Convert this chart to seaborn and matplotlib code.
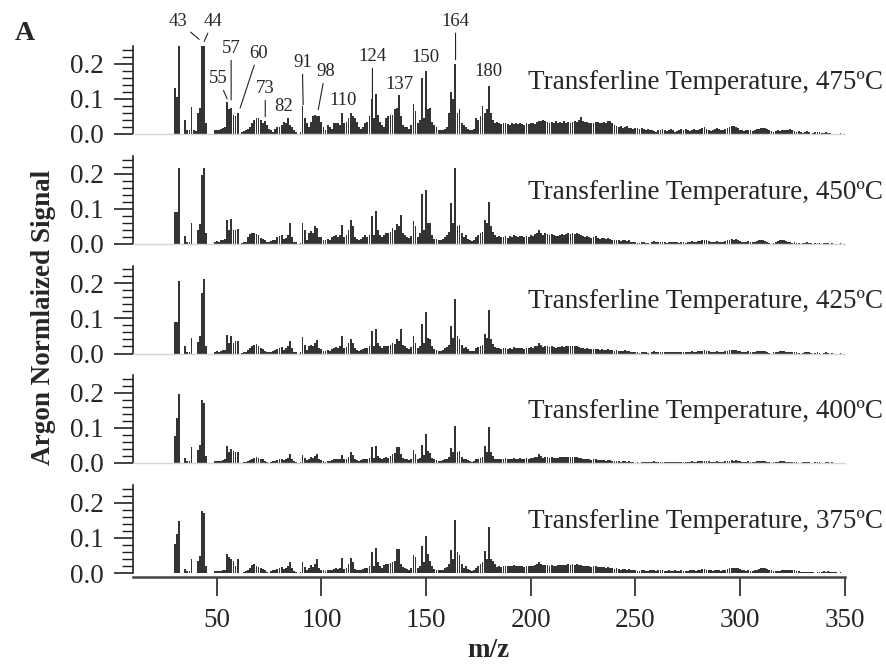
import numpy as np
import pandas as pd
import matplotlib
matplotlib.use("Agg")
import matplotlib.pyplot as plt
import seaborn as sns
from matplotlib.ticker import MultipleLocator, FormatStrFormatter

# m/z axis, one bar per integer mass from 30 to 349
mz = np.arange(30, 350)

temps = [475, 450, 425, 400, 375]

# argon normalized signal, in units of 1e-3
sig_475 = [
    130, 105, 250, 0, 0, 40, 10, 10, 78, 10,
    8, 60, 75, 250, 250, 30, 0, 0, 0, 10,
    12, 10, 15, 18, 20, 90, 70, 75, 55, 50,
    60, 0, 5, 8, 10, 15, 20, 30, 40, 45,
    45, 40, 30, 38, 25, 15, 10, 5, 15, 20,
    20, 25, 35, 30, 45, 25, 20, 10, 5, 0,
    5, 80, 45, 30, 20, 35, 50, 55, 52, 50,
    35, 20, 10, 25, 20, 15, 30, 30, 30, 25,
    60, 30, 35, 45, 60, 50, 45, 35, 20, 15,
    20, 30, 35, 50, 100, 45, 115, 55, 35, 25,
    20, 45, 50, 55, 55, 70, 75, 110, 50, 25,
    20, 20, 15, 25, 85, 65, 30, 40, 160, 45,
    180, 70, 75, 35, 25, 20, 10, 10, 12, 15,
    20, 60, 120, 100, 200, 60, 70, 30, 25, 20,
    15, 10, 10, 15, 45, 40, 50, 80, 60, 70,
    135, 60, 40, 30, 35, 30, 28, 32, 30, 27,
    25, 30, 28, 30, 27, 30, 28, 26, 30, 28,
    30, 32, 28, 35, 38, 36, 40, 38, 33, 30,
    35, 30, 38, 32, 34, 30, 36, 32, 34, 30,
    35, 38, 34, 40, 48, 36, 34, 33, 30, 32,
    30, 33, 35, 32, 30, 34, 32, 36, 38, 30,
    25, 22, 20, 22, 18, 20, 22, 18, 16, 15,
    18, 16, 14, 18, 15, 12, 14, 10, 12, 8,
    6, 10, 12, 14, 10, 8, 12, 15, 10, 6,
    8, 10, 14, 12, 15, 10, 8, 12, 15, 12,
    10, 14, 18, 20, 15, 10, 8, 10, 14, 16,
    15, 12, 10, 14, 18, 20, 22, 23, 20, 16,
    12, 10, 8, 10, 12, 10, 8, 10, 14, 15,
    16, 18, 18, 15, 12, 8, 6, 8, 10, 8,
    10, 12, 10, 12, 13, 10, 8, 6, 8, 5,
    4, 6, 8, 6, 0, 4, 5, 6, 5, 4,
    3, 5, 4, 3, 0, 0, 0, 0, 3, 0,
]

sig_450 = [
    90, 90, 215, 0, 0, 23, 5, 5, 60, 0,
    0, 40, 57, 197, 215, 32, 0, 0, 0, 5,
    8, 5, 10, 12, 13, 68, 40, 70, 40, 40,
    42, 0, 3, 5, 5, 20, 28, 30, 30, 28,
    25, 18, 15, 12, 5, 5, 8, 10, 12, 20,
    22, 25, 15, 18, 25, 60, 20, 5, 5, 0,
    3, 61, 40, 10, 30, 38, 30, 50, 45, 20,
    20, 10, 12, 15, 10, 20, 22, 25, 20, 25,
    55, 20, 25, 40, 69, 50, 20, 15, 10, 15,
    20, 25, 20, 25, 80, 25, 95, 40, 25, 20,
    25, 30, 30, 35, 45, 40, 57, 50, 82, 30,
    25, 20, 18, 22, 66, 50, 20, 30, 143, 40,
    154, 60, 60, 25, 15, 15, 10, 10, 15, 20,
    25, 35, 116, 60, 215, 50, 55, 30, 20, 25,
    15, 10, 8, 10, 20, 25, 30, 35, 68, 60,
    120, 50, 35, 25, 20, 22, 20, 20, 22, 18,
    22, 20, 25, 22, 20, 24, 22, 20, 22, 20,
    25, 22, 28, 30, 40, 32, 25, 30, 28, 25,
    28, 25, 22, 24, 25, 28, 26, 28, 30, 28,
    30, 28, 30, 27, 25, 22, 20, 22, 20, 18,
    20, 22, 18, 15, 18, 16, 14, 16, 15, 12,
    10, 12, 10, 8, 10, 12, 8, 10, 6, 5,
    6, 4, 3, 5, 6, 4, 3, 0, 5, 8,
    6, 5, 7, 6, 5, 4, 6, 5, 5, 6,
    5, 4, 6, 5, 4, 5, 6, 8, 6, 5,
    8, 9, 10, 12, 10, 8, 6, 5, 7, 8,
    6, 5, 6, 8, 10, 12, 13, 12, 13, 10,
    8, 6, 5, 6, 8, 6, 5, 6, 8, 10,
    11, 10, 8, 5, 3, 0, 4, 6, 8, 12,
    10, 12, 8, 6, 5, 4, 5, 4, 3, 0,
    3, 4, 5, 4, 3, 0, 3, 4, 3, 0,
    3, 4, 3, 0, 3, 0, 0, 0, 2, 0,
]

sig_425 = [
    90, 90, 206, 0, 0, 20, 5, 5, 44, 0,
    0, 34, 49, 172, 213, 20, 0, 0, 0, 5,
    6, 5, 8, 10, 10, 53, 30, 51, 30, 35,
    35, 0, 2, 3, 5, 10, 15, 20, 25, 27,
    20, 15, 12, 8, 5, 3, 5, 8, 10, 12,
    15, 18, 10, 15, 20, 35, 15, 5, 3, 0,
    3, 47, 25, 10, 20, 25, 20, 30, 39, 15,
    12, 8, 8, 10, 8, 12, 15, 18, 15, 20,
    49, 15, 18, 30, 42, 30, 15, 10, 8, 10,
    12, 15, 15, 20, 63, 20, 70, 30, 20, 15,
    20, 22, 22, 25, 30, 28, 42, 35, 69, 25,
    20, 15, 12, 18, 49, 30, 15, 20, 85, 30,
    117, 45, 40, 20, 12, 10, 8, 8, 10, 15,
    18, 25, 77, 45, 156, 50, 40, 25, 15, 18,
    12, 8, 6, 8, 15, 18, 22, 25, 56, 45,
    123, 40, 28, 18, 15, 16, 14, 15, 16, 14,
    15, 14, 18, 16, 15, 17, 15, 14, 16, 15,
    18, 16, 20, 22, 30, 24, 18, 22, 20, 18,
    20, 18, 16, 18, 18, 20, 19, 20, 22, 20,
    21, 20, 22, 18, 17, 15, 14, 15, 14, 12,
    13, 14, 12, 11, 12, 11, 10, 12, 11, 9,
    8, 9, 8, 6, 8, 9, 7, 8, 5, 4,
    5, 3, 2, 4, 5, 3, 2, 0, 4, 6,
    5, 4, 5, 5, 4, 3, 5, 4, 4, 5,
    4, 3, 5, 4, 3, 4, 5, 6, 5, 4,
    6, 7, 8, 9, 8, 6, 5, 4, 5, 6,
    5, 4, 5, 6, 8, 9, 10, 9, 10, 8,
    6, 5, 4, 5, 6, 5, 4, 5, 6, 7,
    8, 7, 6, 4, 2, 0, 3, 4, 5, 6,
    6, 7, 5, 4, 4, 3, 4, 3, 2, 0,
    2, 3, 4, 3, 2, 0, 2, 3, 2, 0,
    2, 3, 2, 0, 2, 0, 0, 0, 2, 0,
]

sig_400 = [
    78, 128, 197, 0, 0, 15, 5, 5, 44, 0,
    0, 37, 51, 180, 170, 20, 0, 0, 0, 5,
    5, 5, 6, 8, 10, 49, 30, 40, 35, 30,
    32, 0, 0, 2, 3, 5, 8, 12, 15, 16,
    14, 12, 10, 6, 3, 0, 3, 5, 6, 8,
    10, 12, 8, 10, 13, 26, 12, 5, 2, 0,
    2, 23, 15, 8, 12, 18, 15, 20, 25, 10,
    8, 5, 2, 5, 6, 8, 10, 12, 10, 12,
    22, 10, 12, 18, 30, 22, 10, 8, 6, 8,
    10, 12, 12, 15, 44, 15, 49, 20, 15, 12,
    15, 18, 15, 20, 25, 28, 45, 45, 25, 15,
    12, 10, 8, 12, 37, 25, 12, 15, 51, 22,
    82, 35, 28, 15, 10, 8, 6, 6, 8, 10,
    12, 18, 42, 30, 106, 30, 35, 18, 10, 12,
    8, 5, 4, 6, 10, 12, 15, 18, 49, 30,
    102, 30, 20, 12, 10, 12, 10, 12, 13, 11,
    12, 11, 14, 12, 11, 13, 12, 11, 13, 12,
    14, 13, 16, 18, 25, 20, 15, 18, 16, 15,
    16, 15, 14, 15, 16, 17, 16, 17, 18, 17,
    18, 17, 18, 15, 14, 12, 11, 12, 10, 9,
    10, 11, 9, 8, 9, 8, 7, 9, 8, 6,
    5, 6, 5, 4, 5, 6, 4, 5, 3, 2,
    0, 2, 0, 3, 4, 3, 2, 3, 4, 5,
    4, 3, 4, 4, 3, 2, 4, 3, 3, 4,
    3, 2, 4, 3, 2, 3, 4, 5, 4, 3,
    5, 6, 6, 7, 6, 5, 4, 3, 4, 5,
    4, 3, 4, 5, 6, 7, 8, 7, 8, 6,
    5, 4, 3, 4, 5, 4, 3, 4, 5, 6,
    6, 5, 5, 3, 2, 0, 2, 3, 4, 5,
    5, 5, 4, 3, 3, 2, 3, 2, 0, 0,
    2, 2, 3, 2, 0, 0, 2, 2, 2, 0,
    0, 2, 2, 0, 2, 0, 0, 0, 1, 0,
]

sig_375 = [
    82, 111, 149, 0, 0, 12, 5, 5, 41, 0,
    0, 34, 47, 175, 170, 21, 0, 0, 0, 5,
    5, 5, 6, 8, 10, 53, 45, 40, 35, 20,
    39, 0, 0, 3, 5, 10, 15, 22, 25, 20,
    18, 15, 12, 8, 3, 0, 5, 8, 10, 12,
    15, 18, 12, 15, 20, 32, 15, 6, 3, 0,
    3, 31, 18, 10, 15, 22, 18, 25, 39, 15,
    10, 8, 5, 8, 8, 10, 12, 15, 12, 15,
    42, 12, 15, 25, 44, 30, 12, 10, 8, 10,
    12, 15, 15, 20, 59, 20, 72, 30, 20, 15,
    22, 25, 25, 28, 30, 35, 69, 69, 25, 18,
    15, 12, 10, 15, 50, 45, 15, 20, 78, 30,
    105, 55, 35, 20, 12, 10, 8, 8, 10, 15,
    18, 25, 65, 40, 150, 60, 50, 25, 15, 20,
    12, 8, 6, 8, 15, 20, 25, 30, 63, 40,
    131, 40, 35, 25, 18, 20, 18, 20, 21, 19,
    20, 19, 22, 20, 19, 21, 20, 18, 20, 19,
    20, 19, 22, 25, 30, 26, 22, 24, 22, 20,
    22, 21, 20, 22, 23, 24, 22, 24, 25, 24,
    25, 24, 25, 24, 22, 20, 21, 20, 19, 18,
    20, 19, 18, 17, 18, 16, 15, 16, 15, 14,
    12, 13, 12, 10, 12, 11, 10, 12, 9, 8,
    9, 7, 6, 8, 9, 7, 6, 8, 10, 8,
    7, 8, 9, 8, 7, 6, 8, 7, 7, 8,
    7, 6, 8, 7, 6, 7, 8, 10, 8, 7,
    9, 10, 11, 12, 10, 9, 8, 7, 8, 9,
    8, 7, 8, 10, 12, 13, 14, 15, 15, 13,
    11, 9, 8, 7, 8, 7, 6, 8, 10, 12,
    13, 14, 14, 12, 10, 8, 6, 5, 6, 7,
    8, 9, 10, 10, 9, 10, 8, 6, 5, 4,
    3, 4, 3, 2, 3, 2, 0, 3, 4, 4,
    5, 4, 5, 4, 3, 4, 3, 0, 2, 0,
]

signals = [sig_475, sig_450, sig_425, sig_400, sig_375]

# peak labels on the top panel: label, (tip m/z, tip y), (text m/z, text y)
peak_labels = [
    ("43", (41.6, 0.269), (31.5, 0.32)),
    ("44", (44.0, 0.263), (48.3, 0.32)),
    ("55", (55.0, 0.100), (50.7, 0.157)),
    ("57", (56.9, 0.097), (56.9, 0.243)),
    ("60", (61.2, 0.074), (69.8, 0.229)),
    ("73", (73.2, 0.049), (73.2, 0.129)),
    ("82", None, (82.2, 0.077)),
    ("91", (91.3, 0.083), (90.9, 0.203)),
    ("98", (98.5, 0.069), (101.9, 0.177)),
    ("110", None, (110.5, 0.094)),
    ("124", (124.4, 0.097), (124.4, 0.220)),
    ("137", None, (137.3, 0.140)),
    ("150", None, (149.7, 0.217)),
    ("164", (164.1, 0.211), (164.1, 0.320)),
    ("180", None, (179.9, 0.177)),
]

sns.set_style("ticks")
plt.rcParams["font.family"] = ["Liberation Serif", "DejaVu Serif"]

fig = plt.figure(figsize=(8.87, 6.65), dpi=100)
bottoms = [0.7985, 0.6331, 0.4684, 0.3038, 0.1383]
left, width, height = 0.1499, 0.8024, 0.1323
bar_color = "#333333"

for i, (temp, sig) in enumerate(zip(temps, signals)):
    ax = fig.add_axes([left, bottoms[i], width, height])
    df = pd.DataFrame({"mz": mz, "signal": np.array(sig) / 1000.0})
    sns.barplot(data=df, x="mz", y="signal", native_scale=True,
                color=bar_color, saturation=1, width=0.88, linewidth=0,
                errorbar=None, ax=ax)
    ax.set_xlim(10, 350)
    ax.set_ylim(0, 0.25)
    ax.set_xlabel("")
    ax.set_ylabel("")

    ax.yaxis.set_major_locator(MultipleLocator(0.1))
    ax.yaxis.set_minor_locator(MultipleLocator(0.02))
    ax.yaxis.set_major_formatter(FormatStrFormatter("%.1f"))
    ax.tick_params(axis="y", which="major", length=14, width=1.2,
                   labelsize=19.5, pad=7, color="#222222")
    ax.tick_params(axis="y", which="minor", length=8, width=1.0,
                   color="#222222")

    ax.spines["top"].set_visible(False)
    ax.spines["right"].set_visible(False)
    ax.spines["left"].set_linewidth(1.2)
    ax.spines["left"].set_color("#222222")

    ax.text(1.054, 0.59, f"Transferline Temperature, {temp}\u00baC",
            transform=ax.transAxes, ha="right", va="center", fontsize=19.5)

    if i < len(temps) - 1:
        ax.spines["bottom"].set_color("#d4d4d4")
        ax.spines["bottom"].set_linewidth(1.0)
        ax.tick_params(axis="x", which="both", bottom=False, labelbottom=False)
    else:
        ax.spines["bottom"].set_position(("outward", 3))
        ax.spines["bottom"].set_linewidth(1.8)
        ax.spines["bottom"].set_color("#444444")
        ax.set_xticks(range(50, 351, 50))
        ax.tick_params(axis="x", which="major", length=14, width=1.2,
                       labelsize=19.5, pad=8, color="#222222")

    if i == 0:
        for label, tip, pos in peak_labels:
            if tip is None:
                ax.text(pos[0], pos[1], label, ha="center", va="center",
                        fontsize=13.5, clip_on=False)
            else:
                ax.annotate(label, xy=tip, xytext=pos, ha="center", va="center",
                            fontsize=13.5, annotation_clip=False,
                            arrowprops=dict(arrowstyle="-", lw=0.8,
                                            color="#222222",
                                            shrinkA=0, shrinkB=0))

fig.text(0.028, 0.950, "A", fontsize=20, fontweight="bold",
         ha="center", va="center")
fig.text(0.049, 0.522, "Argon Normlaized Signal", rotation=90,
         fontsize=19.5, fontweight="bold", ha="center", va="center")
fig.text(0.551, 0.022, "m/z", fontsize=19.5, fontweight="bold",
         ha="center", va="center")

fig.savefig("out.png", dpi=100)
